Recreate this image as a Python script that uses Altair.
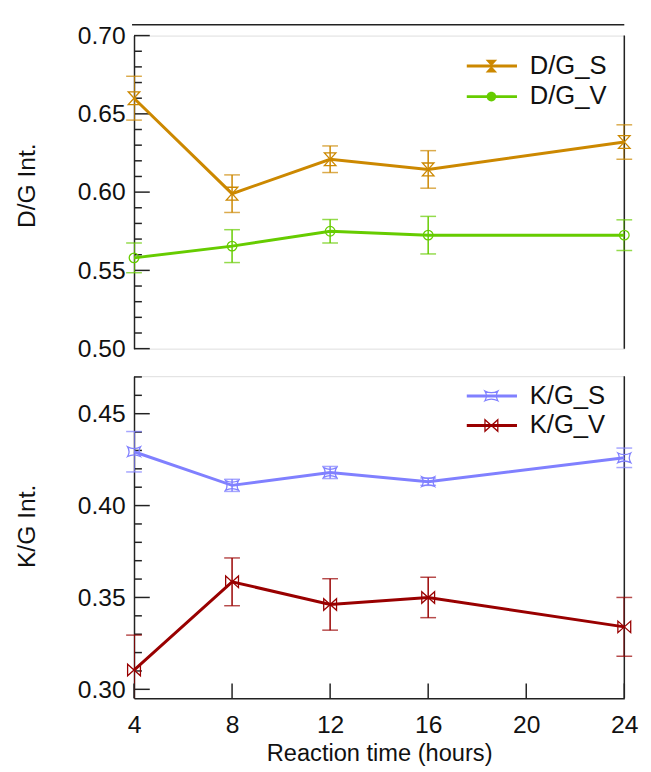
import altair as alt
import pandas as pd

# ---------------- data ----------------
times = [4, 8, 12, 16, 24]

series_names = ["D/G_S", "D/G_V", "K/G_S", "K/G_V"]
series_colors = ["#CC8800", "#66CC00", "#8080FF", "#990000"]

dg_s = [0.660, 0.599, 0.621, 0.6145, 0.632]
dg_s_err = [0.014, 0.012, 0.0085, 0.012, 0.011]
dg_v = [0.558, 0.5655, 0.575, 0.5725, 0.5725]
dg_v_err = [0.0095, 0.0105, 0.0075, 0.012, 0.0098]

kg_s = [0.4293, 0.411, 0.418, 0.413, 0.426]
kg_s_err = [0.011, 0.0033, 0.0033, 0.002, 0.0053]
kg_v = [0.3105, 0.3585, 0.3462, 0.350, 0.334]
kg_v_err = [0.019, 0.013, 0.014, 0.011, 0.016]

x_ticks = [4, 8, 12, 16, 20, 24]
top_major = [0.50, 0.55, 0.60, 0.65, 0.70]
top_minor = [0.51, 0.52, 0.53, 0.54, 0.56, 0.57, 0.58, 0.59, 0.61, 0.62,
             0.63, 0.64, 0.66, 0.67, 0.68, 0.69]
bot_major = [0.30, 0.35, 0.40, 0.45]
bot_minor = [0.31, 0.32, 0.33, 0.34, 0.36, 0.37, 0.38, 0.39, 0.41, 0.42,
             0.43, 0.44, 0.46, 0.47]

top_domain = [0.50, 0.70]
bot_domain = [0.2952, 0.4704]
x_domain = [4, 24]

# marker shapes (Vega custom symbol paths)
HOURGLASS = "M-0.9,-1L0.9,-1L-0.9,1L0.9,1Z"
CIRCLE = "M0.75,0A0.75,0.75 0 1,1 -0.75,0A0.75,0.75 0 1,1 0.75,0Z"
CONCAVE = "M-1,-0.75Q0,-0.25 1,-0.75Q0.55,0 1,0.75Q0,0.25 -1,0.75Q-0.55,0 -1,-0.75Z"
BOWTIE = "M-1,-0.9L-1,0.9L1,-0.9L1,0.9Z"
series_shapes = [HOURGLASS, CIRCLE, CONCAVE, BOWTIE]

FONT = "Liberation Sans"
W = 498
H_TOP = 318
H_BOT = 327


def make_df(names, vals, errs):
    rows = []
    for name, v, e in zip(names, vals, errs):
        for t, vv, ee in zip(times, v, e):
            rows.append({"t": t, "series": name, "v": vv, "lo": vv - ee, "hi": vv + ee})
    return pd.DataFrame(rows)


def make_caps(df):
    a = df[["t", "series", "lo"]].rename(columns={"lo": "c"})
    b = df[["t", "series", "hi"]].rename(columns={"hi": "c"})
    return pd.concat([a, b], ignore_index=True)


color_enc = alt.Color("series:N", scale=alt.Scale(domain=series_names, range=series_colors), legend=None)
shape_enc = alt.Shape("series:N", scale=alt.Scale(domain=series_names, range=series_shapes), legend=None)


def panel(names, vals, errs, ydom, height, ytitle, major, minor, xaxis, legend_rows, legend_filled, top_line):
    df = make_df(names, vals, errs)
    caps = make_caps(df)
    caps = caps[(caps["c"] >= ydom[0]) & (caps["c"] <= ydom[1])]

    yscale = alt.Scale(domain=ydom, nice=False, zero=False)
    xscale = alt.Scale(domain=x_domain, nice=False, zero=False)
    yaxis = alt.Axis(values=major, format=".2f", ticks=False, tickSize=0, domain=True,
                     domainColor="#222222", domainWidth=1.5, grid=False,
                     labelFontSize=25, labelFont=FONT, labelColor="#111111", labelPadding=9,
                     labelOverlap=False, title=ytitle, titleFontSize=25, titleFont=FONT,
                     titleFontWeight="normal", titleColor="#111111", titlePadding=38,
                     titleY=152)

    def X(field):
        return alt.X(field, scale=xscale, axis=xaxis, title="Reaction time (hours)")

    def Y(field):
        return alt.Y(field, scale=yscale, axis=yaxis, title=ytitle)

    base = alt.Chart(df)
    err = base.mark_rule(strokeWidth=1.5, clip=True).encode(x=X("t:Q"), y=Y("lo:Q"), y2="hi:Q", color=color_enc)
    capl = alt.Chart(caps).mark_tick(orient="horizontal", size=16, thickness=1.5).encode(
        x=X("t:Q"), y=Y("c:Q"), color=color_enc)
    line = base.mark_line(strokeWidth=3).encode(x=X("t:Q"), y=Y("v:Q"), color=color_enc)
    pts = base.mark_point(filled=False, strokeWidth=1.3, size=170, opacity=1).encode(
        x=X("t:Q"), y=Y("v:Q"), color=color_enc, shape=shape_enc)

    tk_major = alt.Chart(pd.DataFrame({"v": major})).mark_rule(color="#222222", strokeWidth=1.5).encode(
        y=Y("v:Q"), x=alt.value(0), x2=alt.value(16))
    tk_minor = alt.Chart(pd.DataFrame({"v": minor})).mark_rule(color="#222222", strokeWidth=1.5).encode(
        y=Y("v:Q"), x=alt.value(0), x2=alt.value(8))
    right = alt.Chart(alt.Data(values=[{"a": 1}])).mark_rule(color="#222222", strokeWidth=1.5).encode(
        x=alt.value(W), y=alt.value(0), y2=alt.value(height))

    layers = [tk_minor, tk_major, right, err, capl, line, pts]

    if xaxis is not None:
        xt = alt.Chart(pd.DataFrame({"t": x_ticks})).mark_rule(color="#222222", strokeWidth=1.5).encode(
            x=X("t:Q"), y=alt.value(height - 15), y2=alt.value(height))
        layers.append(xt)

    if top_line:
        tl = alt.Chart(alt.Data(values=[{"a": 1}])).mark_rule(color="#222222", strokeWidth=1.5).encode(
            x=alt.value(-2), x2=alt.value(W), y=alt.value(-11))
        layers.append(tl)

    # legend drawn inside the plot, top-right
    for name, ry, filled in zip(names, legend_rows, legend_filled):
        i = series_names.index(name)
        c = series_colors[i]
        d = alt.Data(values=[{"s": name}])
        layers.append(alt.Chart(d).mark_rule(color=c, strokeWidth=3).encode(
            x=alt.value(338), x2=alt.value(389), y=alt.value(ry)))
        layers.append(alt.Chart(d).mark_point(shape=series_shapes[i], filled=filled, color=c, size=170,
                                               strokeWidth=1.3, opacity=1).encode(
            x=alt.value(363), y=alt.value(ry)))
        layers.append(alt.Chart(d).mark_text(align="left", baseline="middle", fontSize=26, font=FONT,
                                              color="#111111").encode(
            x=alt.value(402), y=alt.value(ry), text="s:N"))

    return alt.layer(*layers).properties(width=W, height=height)


top = panel(["D/G_S", "D/G_V"], [dg_s, dg_v], [dg_s_err, dg_v_err], top_domain, H_TOP, "D/G Int.",
            top_major, top_minor, None, [31, 62], [True, True], True)

xaxis_bottom = alt.Axis(values=x_ticks, format="d", ticks=False, tickSize=0, domain=True,
                        domainColor="#222222", domainWidth=1.5, grid=False, labelFlush=False,
                        labelFontSize=25, labelFont=FONT, labelColor="#111111", labelPadding=15,
                        titleFontSize=24, titleFont=FONT, titleFontWeight="normal",
                        titleColor="#111111", titlePadding=4)

bottom = panel(["K/G_S", "K/G_V"], [kg_s, kg_v], [kg_s_err, kg_v_err], bot_domain, H_BOT, "K/G Int.",
               bot_major, bot_minor, xaxis_bottom, [20, 50], [False, False], False)

chart = alt.vconcat(top, bottom, spacing=28, bounds="flush").resolve_scale(
    color="shared", shape="shared", x="independent", y="independent"
).properties(
    padding={"left": 6, "top": 9, "right": 4, "bottom": 0}
).configure_view(stroke=None).configure(background="white")

chart.save("out.html", embed_options={"renderer": "svg", "actions": False})
